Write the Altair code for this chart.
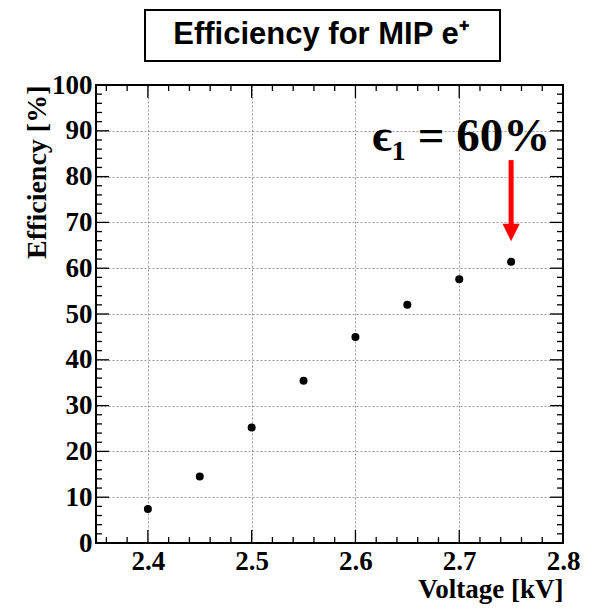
import altair as alt
import pandas as pd
import numpy as np

# data
voltage = [2.40, 2.45, 2.50, 2.55, 2.60, 2.65, 2.70, 2.75]
efficiency = [7.4, 14.5, 25.2, 35.4, 45.0, 52.0, 57.6, 61.4]

x_ticks_major = [2.4, 2.5, 2.6, 2.7, 2.8]
y_ticks_major = [0, 10, 20, 30, 40, 50, 60, 70, 80, 90, 100]
x_ticks_minor = [round(v, 2) for v in np.arange(2.36, 2.80, 0.02) if round(v, 2) not in x_ticks_major]
y_ticks_minor = [v for v in range(2, 100, 2) if v % 10 != 0]

title_text = "Efficiency for MIP e\u207a"
annot_text = "\u03f5\u2081 = 60%"
annot_x, annot_y = 2.702, 85.6
arrow_x, arrow_top, arrow_shaft_end, arrow_head = 2.75, 83.6, 69.4, 67.8

W, H = 467, 458
XDOM = [2.35, 2.8]
YDOM = [0, 100]
SERIF = "Liberation Serif"

xs = alt.Scale(domain=XDOM, nice=False, zero=False)
ys = alt.Scale(domain=YDOM, nice=False)

df = pd.DataFrame({"v": voltage, "e": efficiency})

points = alt.Chart(df).mark_circle(color="black", opacity=1, size=64).encode(
    x=alt.X("v:Q", scale=xs, axis=alt.Axis(
        values=x_ticks_major, format=".1f", ticks=False, domain=False,
        grid=True, gridDash=[2, 2], gridColor="#999", gridWidth=1,
        labelFont=SERIF, labelFontSize=27, labelFontWeight="bold", labelColor="black",
        labelPadding=5, labelFlush=False,
        title="Voltage [kV]", titleFont=SERIF, titleFontSize=27, titleFontWeight="bold",
        titleColor="black", titleX=W, titleY=54, titleAlign="right",
        titleBaseline="alphabetic", titleAnchor="end")),
    y=alt.Y("e:Q", scale=ys, axis=alt.Axis(
        values=y_ticks_major, ticks=False, domain=False,
        grid=True, gridDash=[2, 2], gridColor="#999", gridWidth=1,
        labelFont=SERIF, labelFontSize=27, labelFontWeight="bold", labelColor="black",
        labelPadding=4, labelFlush=False,
        title="Efficiency [%]", titleFont=SERIF, titleFontSize=28, titleFontWeight="bold",
        titleColor="black", titleX=-51, titleY=0, titleAngle=-90, titleAlign="right",
        titleBaseline="alphabetic", titleAnchor="end")),
)

def xtick_layer(vals, length):
    d = pd.DataFrame({"t": vals})
    bottom = alt.Chart(d).mark_rule(color="black", strokeWidth=1.3).encode(
        x=alt.X("t:Q", scale=xs), y=alt.value(H), y2=alt.value(H - length))
    top = alt.Chart(d).mark_rule(color="black", strokeWidth=1.3).encode(
        x=alt.X("t:Q", scale=xs), y=alt.value(0), y2=alt.value(length))
    return bottom + top

def ytick_layer(vals, length):
    d = pd.DataFrame({"t": vals})
    left = alt.Chart(d).mark_rule(color="black", strokeWidth=1.3).encode(
        y=alt.Y("t:Q", scale=ys), x=alt.value(0), x2=alt.value(length))
    right = alt.Chart(d).mark_rule(color="black", strokeWidth=1.3).encode(
        y=alt.Y("t:Q", scale=ys), x=alt.value(W), x2=alt.value(W - length))
    return left + right

dummy = pd.DataFrame({"a": [0]})
frame = alt.Chart(dummy).mark_rect(fill="transparent", stroke="black", strokeWidth=2).encode(
    x=alt.value(0), x2=alt.value(W), y=alt.value(0), y2=alt.value(H))

title_box = alt.Chart(dummy).mark_rect(fill="white", stroke="black", strokeWidth=2).encode(
    x=alt.value(49), x2=alt.value(404), y=alt.value(-75), y2=alt.value(-24))
title_txt = alt.Chart(pd.DataFrame({"t": [title_text]})).mark_text(
    font="Liberation Sans", fontSize=31, fontWeight="bold", color="black",
    align="center", baseline="middle").encode(
    text="t:N", x=alt.value(225), y=alt.value(-50))

annot = alt.Chart(pd.DataFrame({"t": [annot_text], "x": [annot_x], "y": [annot_y]})).mark_text(
    font=SERIF, fontSize=47, fontWeight="bold", color="black",
    align="center", baseline="alphabetic").encode(
    text="t:N", x=alt.X("x:Q", scale=xs), y=alt.Y("y:Q", scale=ys))

arrow_df = pd.DataFrame({"x": [arrow_x], "y1": [arrow_top], "y2": [arrow_shaft_end], "yh": [arrow_head]})
shaft = alt.Chart(arrow_df).mark_rule(color="#ff0000", strokeWidth=5).encode(
    x=alt.X("x:Q", scale=xs), y=alt.Y("y1:Q", scale=ys), y2="y2:Q")
head = alt.Chart(arrow_df).mark_point(
    shape="M-1,-1L1,-1L0,1Z", filled=True, color="#ff0000", opacity=1, size=300).encode(
    x=alt.X("x:Q", scale=xs), y=alt.Y("yh:Q", scale=ys))

chart = alt.layer(
    points,
    xtick_layer(x_ticks_major, 13), xtick_layer(x_ticks_minor, 6),
    ytick_layer(y_ticks_major, 13), ytick_layer(y_ticks_minor, 6),
    frame, shaft, head, annot, title_box, title_txt,
).properties(
    width=W, height=H,
    autosize=alt.AutoSizeParams(type="none"),
    padding={"left": 88, "top": 77, "right": 26, "bottom": 61},
).configure_view(stroke=None).configure(background="white")

chart.save("out.html", embed_options={"renderer": "svg", "actions": False})
